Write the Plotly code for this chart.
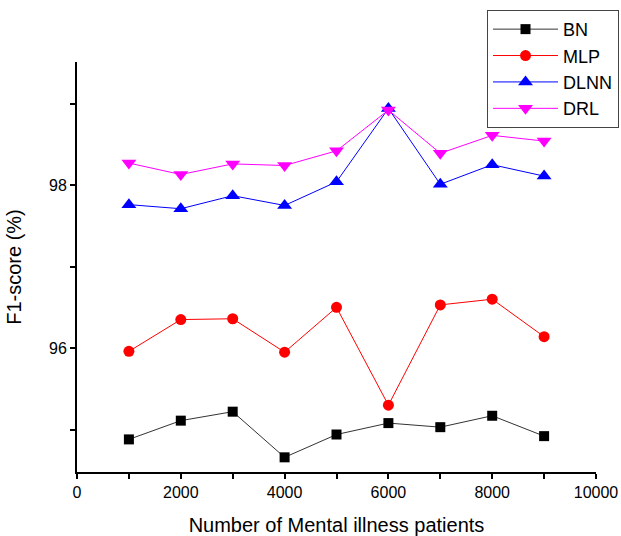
import plotly.graph_objects as go

patients = [1000, 2000, 3000, 4000, 5000, 6000, 7000, 8000, 9000]
bn = [94.88, 95.11, 95.22, 94.66, 94.94, 95.08, 95.03, 95.17, 94.92]
mlp = [95.96, 96.35, 96.36, 95.95, 96.50, 95.30, 96.53, 96.60, 96.14]
dlnn = [97.76, 97.71, 97.87, 97.75, 98.04, 98.94, 98.01, 98.25, 98.11]
drl = [98.27, 98.13, 98.26, 98.24, 98.42, 98.92, 98.39, 98.61, 98.54]

series = [
    ("BN", bn, "black", "#333333", "square", 10),
    ("MLP", mlp, "red", "red", "circle", 11),
    ("DLNN", dlnn, "blue", "blue", "triangle-up", 13),
    ("DRL", drl, "magenta", "magenta", "triangle-down", 13),
]

fig = go.Figure()
for name, vals, mcol, lcol, sym, size in series:
    fig.add_trace(go.Scatter(
        x=patients, y=vals, name=name, mode="lines+markers",
        line=dict(color=lcol, width=1),
        marker=dict(color=mcol, symbol=sym, size=size),
    ))

font = "Liberation Sans, Arial, sans-serif"
fig.update_layout(
    width=621, height=536,
    margin=dict(l=77, r=25, t=62, b=64, autoexpand=False),
    paper_bgcolor="white", plot_bgcolor="white",
    font=dict(family=font, size=16, color="black"),
    showlegend=True,
    legend=dict(
        x=0.79, y=1.127, xanchor="left", yanchor="top",
        bordercolor="#444444", borderwidth=1,
        font=dict(size=18, color="black"),
        bgcolor="white", itemwidth=65, tracegroupgap=0,
    ),
    xaxis=dict(
        range=[0, 10000], dtick=2000, tick0=0, tickformat="d",
        showline=True, linecolor="black", linewidth=2,
        ticks="outside", ticklen=5, tickwidth=1.5, tickcolor="black",
        minor=dict(dtick=1000, ticks="outside", ticklen=5, tickwidth=1.5, tickcolor="black"),
        showgrid=False, zeroline=False, automargin=False,
        tickfont=dict(size=16),
        title=dict(text="Number of Mental illness patients", font=dict(size=20), standoff=18),
    ),
    yaxis=dict(
        range=[94.48, 99.51], dtick=2, tick0=0,
        showline=True, linecolor="black", linewidth=2,
        ticks="outside", ticklen=5, tickwidth=1.5, tickcolor="black",
        minor=dict(dtick=1, ticks="outside", ticklen=5, tickwidth=1.5, tickcolor="black"),
        showgrid=False, zeroline=False, automargin=False,
        tickfont=dict(size=16),
        title=dict(text="F1-score (%)", font=dict(size=20), standoff=22),
    ),
)

fig.write_html("out.html", config={"displayModeBar": False},
               post_script="document.body.style.margin='0';")
